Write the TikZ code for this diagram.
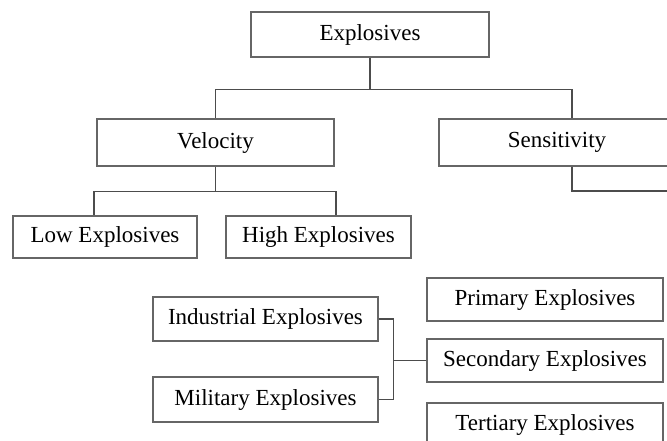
\documentclass[tikz,border=0pt]{standalone}
\usepackage{fontspec}
\setmainfont{Liberation Serif}
\usepackage{tikz}

\begin{document}
\begin{tikzpicture}[x=1pt,y=-1pt,line width=1.3pt,draw=black!70,
  box/.style={draw=black!60,line width=1.3pt,inner sep=0pt,font=\fontsize{23}{27}\selectfont}]
\path[use as bounding box,clip] (0,0) rectangle (667,440);
\node[box,minimum width=238pt,minimum height=45pt] (explosives) at (370,34.5) {Explosives};
\node[box,minimum width=237pt,minimum height=47pt] (velocity) at (215.5,142.5) {Velocity};
\node[box,minimum width=236pt,minimum height=47pt] (sensitivity) at (557,142.5) {Sensitivity};
\node[box,minimum width=184pt,minimum height=42pt] (low) at (105,237) {Low Explosives};
\node[box,minimum width=185pt,minimum height=42pt] (high) at (318.5,237) {High Explosives};
\node[box,minimum width=225pt,minimum height=44pt] (industrial) at (265.5,319) {Industrial Explosives};
\node[box,minimum width=225pt,minimum height=45pt] (military) at (265.5,399.5) {Military Explosives};
\node[box,minimum width=236pt,minimum height=43pt] (primary) at (545,299.5) {Primary Explosives};
\node[box,minimum width=236pt,minimum height=43pt] (secondary) at (545,360.5) {Secondary Explosives};
\node[box,minimum width=236pt,minimum height=43pt] (tertiary) at (545,424.5) {Tertiary Explosives};
\coordinate (senstop) at ([xshift=15pt]sensitivity.north);
\coordinate (sensbot) at ([xshift=15pt]sensitivity.south);
\coordinate (sensout) at (700,191);
\coordinate (fork) at ([xshift=15pt]industrial.east);
\draw (explosives.south) -- ++(0,32) -| (velocity.north);
\draw (explosives.south) ++(0,32) -| (senstop);
\draw (velocity.south) -- ++(0,25) -| ([xshift=-11pt]low.north);
\draw (velocity.south) ++(0,25) -| ([xshift=17.5pt]high.north);
\draw (sensbot) |- (sensout);
\draw (industrial.east) -- (fork) |- (military.east);
\draw (secondary.west) -- (secondary.west -| fork);
\end{tikzpicture}
\end{document}
